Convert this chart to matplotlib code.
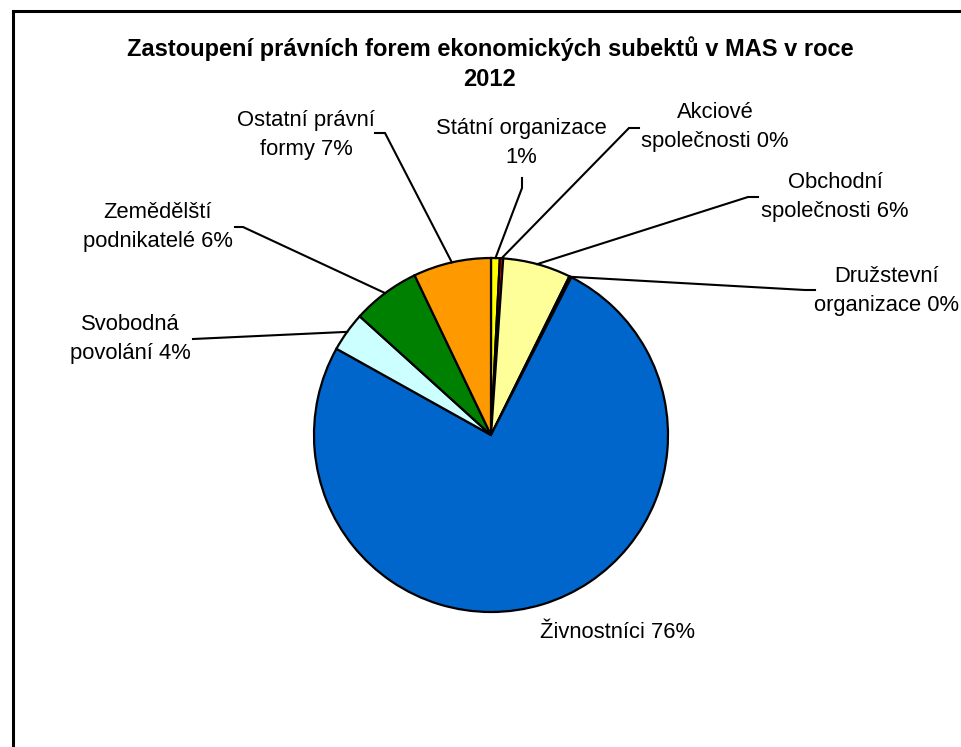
import numpy as np
import matplotlib.pyplot as plt

plt.rcParams['font.family'] = ['Liberation Sans', 'DejaVu Sans']

W, H = 961, 747

# categories, clockwise from 12 o'clock
names = ["Státní organizace\n", "Akciové\nspolečnosti", "Obchodní\nspolečnosti",
         "Družstevní\norganizace", "Živnostníci", "Svobodná\npovolání",
         "Zemědělští\npodnikatelé", "Ostatní právní\nformy"]
shares = [0.8, 0.3, 6.2, 0.2, 75.6, 3.6, 6.2, 7.1]
colors = ["#FFFF00", "#FF0000", "#FFFF99", "#969696",
          "#0066CC", "#CCFFFF", "#008000", "#FF9900"]

title = "Zastoupení právních forem ekonomických subektů v MAS v roce\n2012"

# label centres in pixels (x, y from top)
label_pos = [(521, 143), (715, 127), (835, 197), (887, 291),
             (617, 633), (130, 339), (158, 227), (306, 135)]
# leader lines: (tick start, knee) in pixels, None = no leader
leaders = [((522, 178), (522, 188)), ((639, 128), (629, 128)),
           ((758, 197), (748, 197)), ((815, 290), (805, 290)),
           None, ((193, 339), (193, 339)),
           ((235, 227), (243, 227)), ((375, 133), (385, 133))]

cx, cy, r = 491, 435, 177

fig = plt.figure(figsize=(W / 100, H / 100), dpi=100)
ax = fig.add_axes([0, 0, 1, 1])

wedges, _ = ax.pie(shares, colors=colors, startangle=90, counterclock=False,
                   center=(cx, H - cy), radius=r, frame=True,
                   wedgeprops=dict(edgecolor='black', linewidth=1.6))
ax.set_xlim(0, W)
ax.set_ylim(0, H)
ax.set_aspect('equal')
ax.axis('off')

total = sum(shares)
for w, name, s, (lx, ly), ld in zip(wedges, names, shares, label_pos, leaders):
    pct = 100 * s / total
    sep = '' if name.endswith('\n') else ' '
    ax.text(lx, H - ly, f"{name}{sep}{pct:.0f}%", ha='center', va='center',
            fontsize=15.8, linespacing=1.5)
    if ld is None:
        continue
    mid = np.deg2rad((w.theta1 + w.theta2) / 2)
    px, py = cx + r * np.cos(mid), (H - cy) + r * np.sin(mid)
    (x0, y0), (x1, y1) = ld
    ax.plot([x0, x1, px], [H - y0, H - y1, py], color='black', lw=1.5,
            solid_joinstyle='miter')

ax.text(490, H - 36, title, ha='center', va='top', fontsize=17,
        fontweight='bold', linespacing=1.4)

# chart frame (right and bottom edges fall outside the image)
ax.plot([13, 13, W + 5], [-5, H - 11, H - 11], color='black', lw=2.2,
        clip_on=False, solid_joinstyle='miter')

fig.savefig('out.png', dpi=100)
